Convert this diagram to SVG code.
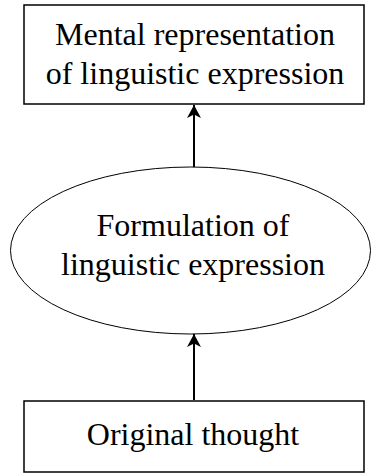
<svg xmlns="http://www.w3.org/2000/svg" width="371" height="473" viewBox="0 0 371 473">
  <style>
    .box { fill: #fff; stroke: #000; stroke-width: 1.5; }
    .oval { fill: #fff; stroke: #000; stroke-width: 1; }
    .label { font-family: "Liberation Serif", "Times New Roman", serif; font-size: 32px; fill: #000; text-anchor: middle; }
    .edge { stroke: #000; stroke-width: 2; fill: none; marker-end: url(#head); }
  </style>
  <defs>
    <marker id="head" markerWidth="16" markerHeight="16" refX="13" refY="8" orient="auto" markerUnits="userSpaceOnUse">
      <path d="M0,1 L13,8 L0,15 L3.5,8 Z" fill="#000"/>
    </marker>
  </defs>
  <rect width="371" height="473" fill="#fff"/>

  <g id="connectors">
    <line class="edge" x1="194" y1="167" x2="194" y2="105"/>
    <line class="edge" x1="194" y1="400" x2="194" y2="334"/>
  </g>

  <g id="mental-representation">
    <rect class="box" x="24" y="5" width="340" height="99"/>
    <text class="label" x="195" y="45">Mental representation</text>
    <text class="label" x="195" y="84">of linguistic expression</text>
  </g>

  <g id="formulation">
    <ellipse class="oval" cx="190.5" cy="250.5" rx="180" ry="83.5"/>
    <text class="label" x="193" y="236">Formulation of</text>
    <text class="label" x="193" y="275">linguistic expression</text>
  </g>

  <g id="original-thought">
    <rect class="box" x="24" y="401" width="340" height="71"/>
    <text class="label" x="193" y="445">Original thought</text>
  </g>
</svg>
